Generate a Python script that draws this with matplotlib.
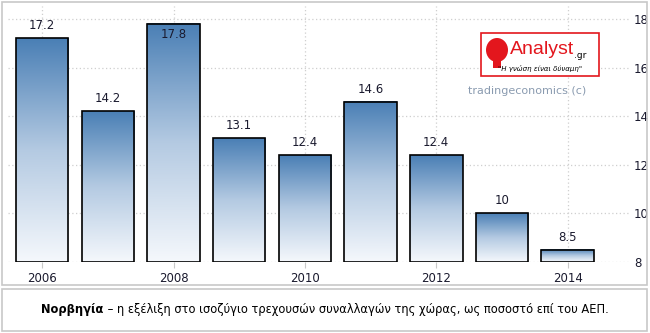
import numpy as np
import matplotlib.pyplot as plt
from matplotlib.patches import Rectangle, Ellipse
from matplotlib.colors import LinearSegmentedColormap

# ---- data ----
years = [2006, 2007, 2008, 2009, 2010, 2011, 2012, 2013, 2014]
values = [17.2, 14.2, 17.8, 13.1, 12.4, 14.6, 12.4, 10, 8.5]
value_labels = ['17.2', '14.2', '17.8', '13.1', '12.4', '14.6', '12.4', '10', '8.5']
tick_years = [2006, 2008, 2010, 2012, 2014]
y_ticks = [8, 10, 12, 14, 16, 18]
caption_bold = 'Νορβηγία'
caption_rest = ' – η εξέλιξη στο ισοζύγιο τρεχουσών συναλλαγών της χώρας, ως ποσοστό επί του ΑΕΠ.'

W, H = 650, 333
fig = plt.figure(figsize=(6.5, 3.33), dpi=100)
fig.patch.set_facecolor('white')

# outer frames
fig.patches.append(Rectangle((2 / W, 1 - 285 / H), 645 / W, 283 / H, transform=fig.transFigure,
                             fill=False, ec='#c8c8c8', lw=1.2))
fig.patches.append(Rectangle((2 / W, 1 - 331 / H), 645 / W, 42 / H, transform=fig.transFigure,
                             fill=False, ec='#c8c8c8', lw=1.2))

# axes: left 8px, right 630px, top 6px, bottom 262px
ax = fig.add_axes([8 / W, 1 - 262 / H, (630 - 8) / W, (262 - 6) / H])
ymin, ymax = 8, 18 + 13 / 24.3
x = np.arange(len(years))

for s in ax.spines.values():
    s.set_visible(False)

for yt in y_ticks:
    ax.axhline(yt, color='#cfcfcf', lw=0.9, ls=(0, (1, 2)), zorder=0)
for ty in tick_years:
    ax.axvline(years.index(ty), color='#cfcfcf', lw=0.9, ls=(0, (1, 2)), zorder=0)

cmap = LinearSegmentedColormap.from_list('bar', ['#f5f8fc', '#b4cae2', '#4a7fb5'])
grad = np.linspace(0, 1, 256).reshape(-1, 1)
bw = 0.8
bars = ax.bar(x, np.array(values) - ymin, bottom=ymin, width=bw, color='none',
              edgecolor='black', lw=1.2, zorder=3)
for b in bars:
    x0, y0 = b.get_x(), b.get_y()
    ax.imshow(grad, cmap=cmap, origin='lower', aspect='auto', interpolation='bicubic',
              extent=(x0, x0 + b.get_width(), y0, y0 + b.get_height()), zorder=2)
ax.set_xlim(-0.52, 8.95)
ax.set_ylim(ymin, ymax)

for xi, v, lab in zip(x, values, value_labels):
    if v > 17.5:
        ax.text(xi, v - 0.18, lab, ha='center', va='top', fontsize=8.5, color='#1a1a2e', zorder=4)
    else:
        ax.text(xi, v + 0.25, lab, ha='center', va='bottom', fontsize=8.5, color='#1a1a2e', zorder=4)

ax.set_xticks([years.index(t) for t in tick_years])
ax.set_xticklabels([str(t) for t in tick_years], fontsize=8.5, color='#1a1a2e')
ax.tick_params(axis='x', length=4, color='#c8c8c8', pad=3)
ax.yaxis.tick_right()
ax.set_yticks(y_ticks)
ax.set_yticklabels([str(t) for t in y_ticks], fontsize=8.5, color='#1a1a2e')
ax.tick_params(axis='y', length=0, pad=3)

# logo
lx0, ly0, lw_, lh = 481, 33, 118, 43
fig.patches.append(Rectangle((lx0 / W, 1 - (ly0 + lh) / H), lw_ / W, lh / H, transform=fig.transFigure,
                             fill=True, fc='white', ec='#e3161d', lw=1.2, zorder=5))
fig.patches.append(Ellipse((497 / W, 1 - 50 / H), 22 / W, 24 / H, transform=fig.transFigure,
                           fc='#e3161d', ec='none', zorder=6))
fig.patches.append(Rectangle((493 / W, 1 - 68 / H), 8 / W, 8 / H, transform=fig.transFigure,
                             fc='#e3161d', ec='none', zorder=6))
fig.text(510 / W, 1 - 50 / H, 'Analyst', fontsize=14, color='#e3161d', ha='left', va='center',
         family='Liberation Sans', zorder=7)
fig.text(574 / W, 1 - 56 / H, '.gr', fontsize=6.5, color='black', ha='left', va='center', zorder=7)
fig.text(540 / W, 1 - 69 / H, '"Η γνώση είναι δύναμη"', fontsize=5, color='black', ha='center',
         va='center', style='italic', zorder=7)
fig.text(527 / W, 1 - 91 / H, 'tradingeconomics (c)', fontsize=8, color='#8a9bb0', ha='center',
         va='center', zorder=7)

# caption: bold part followed by normal part, centred as a whole
t1 = fig.text(0, 1 - 309 / H, caption_bold, fontsize=8.3, weight='bold', color='black', va='center')
t2 = ax.annotate(caption_rest, xy=(1, 0.5), xycoords=t1, va='center', ha='left',
                 fontsize=8.3, color='black', annotation_clip=False)
fig.canvas.draw()
r = fig.canvas.get_renderer()
w1 = t1.get_window_extent(r).width
w2 = t2.get_window_extent(r).width
t1.set_x((W / 2 - (w1 + w2) / 2) / W)

fig.savefig('out.png', dpi=100)
